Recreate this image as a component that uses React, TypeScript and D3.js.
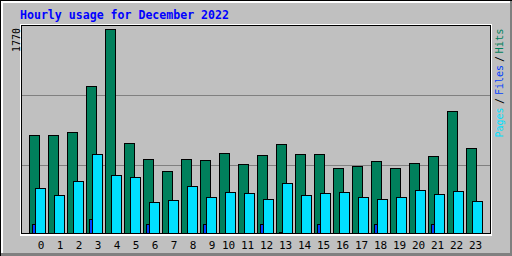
import React from "react";
import * as d3 from "d3";

const hourLabels = ["0","1","2","3","4","5","6","7","8","9","10","11","12","13","14","15","16","17","18","19","20","21","22","23"];
const hits = [848, 848, 874, 1273, 1770, 778, 639, 535, 639, 631, 692, 596, 674, 770, 683, 683, 561, 579, 622, 561, 605, 665, 1056, 735];
const files = [78, 0, 0, 119, 0, 0, 78, 0, 0, 78, 0, 0, 78, 12, 0, 78, 0, 0, 78, 0, 0, 78, 0, 0];
const pages = [388, 327, 449, 683, 501, 483, 266, 284, 405, 310, 353, 344, 292, 431, 327, 344, 353, 310, 292, 310, 371, 336, 362, 275];
const maxLabel = "1770";
const title = "Hourly usage for December 2022";

const W = 512, H = 256;
const GREY = "#C0C0C0", DKGREY = "#808080";
const C_HITS = "#00805C", C_FILES = "#0040FF", C_PAGES = "#00E0FF";
const MONO = "'DejaVu Sans Mono', 'Liberation Mono', monospace";

export default function App() {
  const x = d3.scaleBand<string>().domain(hourLabels).range([29, 29 + 19 * 24]).paddingInner(0).paddingOuter(0);
  const y = d3.scaleLinear().domain([0, 1770]).range([233, 29]);
  const yGrid = d3.scaleLinear().domain([0, 1]).range([235, 25]);
  const gridFracs = [1 / 3, 2 / 3];

  const bar = (v: number, left: number, w: number, fill: string, key: string) => {
    if (v <= 0) return null;
    const top = Math.round(y(v));
    return (
      <rect key={key} x={left + 0.5} y={top + 0.5} width={w} height={233 - top}
        fill={fill} stroke="#000" strokeWidth={1} shapeRendering="crispEdges" />
    );
  };

  return (
    <svg width={W} height={H} style={{ position: "absolute", left: 0, top: 0, display: "block" }}>
      {/* background and 3D frame */}
      <rect x={0} y={0} width={W} height={H} fill={GREY} />
      <rect x={0} y={H - 3} width={W} height={3} fill={DKGREY} />
      <rect x={W - 2} y={0} width={2} height={H} fill={DKGREY} />
      <rect x={0} y={0} width={W - 2} height={3} fill="#FFFFFF" />
      <rect x={0} y={0} width={3} height={H - 3} fill="#FFFFFF" />
      <rect x={0} y={0} width={W} height={1} fill="#000" />
      <rect x={0} y={0} width={1} height={H} fill="#000" />

      {/* plot frame */}
      <rect x={20} y={24} width={472} height={212} fill="#FFFFFF" />
      <rect x={21} y={25} width={470} height={209} fill="#000" />
      <rect x={22} y={26} width={468} height={207} fill={GREY} />

      {/* grid lines */}
      {gridFracs.map((f, i) => (
        <line key={"g" + i} x1={22} x2={490} y1={Math.round(yGrid(f)) + 0.5} y2={Math.round(yGrid(f)) + 0.5}
          stroke={DKGREY} strokeWidth={1} shapeRendering="crispEdges" />
      ))}

      {/* bars */}
      {hourLabels.map((h, i) => {
        const x0 = x(h) as number;
        return (
          <g key={"b" + h}>
            {bar(hits[i], x0, 10, C_HITS, "h")}
            {bar(files[i], x0 + 3, 3, C_FILES, "f")}
            {bar(pages[i], x0 + 6, 10, C_PAGES, "p")}
          </g>
        );
      })}

      {/* x labels */}
      {hourLabels.map((h) => {
        const x0 = x(h) as number;
        return (
          <text key={"l" + h} x={x0 + (h.length === 1 ? 12 : 9.5)} y={249} textAnchor="middle"
            fontFamily={MONO} fontSize={11} fill="#000">{h}</text>
        );
      })}

      {/* title */}
      <text x={20} y={18.5} fontFamily={MONO} fontWeight="bold" fontSize={11.5} fill="#0000FF"
        textLength={209} lengthAdjust="spacingAndGlyphs">{title}</text>

      {/* max label */}
      <text transform="translate(19.5,52) rotate(-90)" fontFamily={MONO} fontSize={10} fill="#000"
        textLength={24} lengthAdjust="spacingAndGlyphs">{maxLabel}</text>

      {/* right legend */}
      <text transform="translate(502.5,137.5) rotate(-90)" fontFamily={MONO} fontSize={10} fill={C_PAGES}
        textLength={30} lengthAdjust="spacingAndGlyphs">Pages</text>
      <text transform="translate(502.5,104) rotate(-90)" fontFamily={MONO} fontSize={10} fill="#000"
        textLength={6} lengthAdjust="spacingAndGlyphs">/</text>
      <text transform="translate(502.5,95) rotate(-90)" fontFamily={MONO} fontSize={10} fill={C_FILES}
        textLength={30} lengthAdjust="spacingAndGlyphs">Files</text>
      <text transform="translate(502.5,62) rotate(-90)" fontFamily={MONO} fontSize={10} fill="#000"
        textLength={6} lengthAdjust="spacingAndGlyphs">/</text>
      <text transform="translate(502.5,53.5) rotate(-90)" fontFamily={MONO} fontSize={10} fill={C_HITS}
        textLength={25} lengthAdjust="spacingAndGlyphs">Hits</text>
    </svg>
  );
}
